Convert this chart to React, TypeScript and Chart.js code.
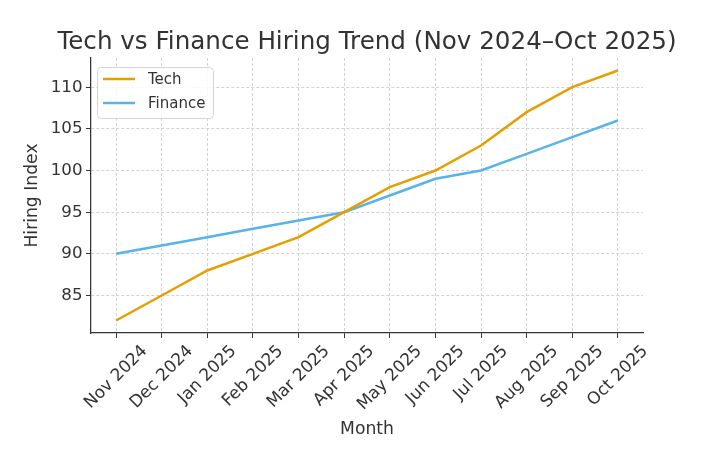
import React, { useEffect, useRef } from "react";
import { Chart, registerables } from "chart.js";

Chart.register(...registerables);

const months = [
  "Nov 2024", "Dec 2024", "Jan 2025", "Feb 2025", "Mar 2025", "Apr 2025",
  "May 2025", "Jun 2025", "Jul 2025", "Aug 2025", "Sep 2025", "Oct 2025",
];
const techValues = [82, 85, 88, 90, 92, 95, 98, 100, 103, 107, 110, 112];
const financeValues = [90, 91, 92, 93, 94, 95, 97, 99, 100, 102, 104, 106];
const yTicks = [85, 90, 95, 100, 105, 110];

const TITLE = "Tech vs Finance Hiring Trend (Nov 2024\u2013Oct 2025)";
const X_TITLE = "Month";
const Y_TITLE = "Hiring Index";
const TECH_COLOR = "#E69F00";
const FIN_COLOR = "#56B4E9";
const TEXT = "#333333";
const FONT = "'DejaVu Sans', sans-serif";

const decorPlugin = {
  id: "decor",
  afterDraw(chart: any) {
    const ctx = chart.ctx;
    const area = chart.chartArea;
    const xs = chart.scales.x;
    ctx.save();
    // title
    ctx.fillStyle = TEXT;
    ctx.font = `24.6px ${FONT}`;
    ctx.textAlign = "center";
    ctx.textBaseline = "alphabetic";
    ctx.fillText(TITLE, (area.left + area.right) / 2, 49);
    // x tick labels (rotated 45, centered)
    ctx.font = `16.9px ${FONT}`;
    const h = 16.9 * 1.164;
    months.forEach((m, i) => {
      const x = xs.getPixelForValue(i);
      const w = ctx.measureText(m).width;
      const cy = area.bottom + 5 + 3.5 + (w + h) * 0.3536;
      ctx.save();
      ctx.translate(x, cy);
      ctx.rotate(-Math.PI / 4);
      ctx.textAlign = "center";
      ctx.textBaseline = "middle";
      ctx.fillText(m, 0, 0);
      ctx.restore();
    });
    // axis titles
    ctx.font = `17.2px ${FONT}`;
    ctx.textAlign = "center";
    ctx.textBaseline = "middle";
    ctx.fillText(X_TITLE, (area.left + area.right) / 2, 430);
    ctx.save();
    ctx.translate(33, (area.top + area.bottom) / 2);
    ctx.rotate(-Math.PI / 2);
    ctx.fillText(Y_TITLE, 0, 0);
    ctx.restore();
    // legend
    const lx = area.left + 6;
    const ly = area.top + 9;
    const lw = 116;
    const lh = 51;
    ctx.beginPath();
    (ctx as any).roundRect(lx + 0.5, ly + 0.5, lw, lh, 4);
    ctx.fillStyle = "rgba(255,255,255,0.85)";
    ctx.fill();
    ctx.strokeStyle = "#d6d6d6";
    ctx.lineWidth = 1;
    ctx.stroke();
    const items = [
      { label: "Tech", color: TECH_COLOR },
      { label: "Finance", color: FIN_COLOR },
    ];
    ctx.font = `15px ${FONT}`;
    ctx.textAlign = "left";
    ctx.textBaseline = "middle";
    items.forEach((it, k) => {
      const yy = ly + 12 + k * 24;
      ctx.strokeStyle = it.color;
      ctx.lineWidth = 2.5;
      ctx.beginPath();
      ctx.moveTo(lx + 6, yy);
      ctx.lineTo(lx + 38, yy);
      ctx.stroke();
      ctx.fillStyle = TEXT;
      ctx.fillText(it.label, lx + 51, yy + 1);
    });
    ctx.restore();
  },
};

export default function App() {
  const ref = useRef<HTMLCanvasElement | null>(null);
  useEffect(() => {
    if (!ref.current) return;
    const chart = new Chart(ref.current, {
      type: "line",
      data: {
        datasets: [
          {
            label: "Tech",
            data: techValues.map((v, i) => ({ x: i, y: v })),
            borderColor: TECH_COLOR,
            backgroundColor: TECH_COLOR,
            borderWidth: 2.5,
            pointRadius: 0,
            tension: 0,
          },
          {
            label: "Finance",
            data: financeValues.map((v, i) => ({ x: i, y: v })),
            borderColor: FIN_COLOR,
            backgroundColor: FIN_COLOR,
            borderWidth: 2.5,
            pointRadius: 0,
            tension: 0,
          },
        ],
      },
      options: {
        responsive: false,
        animation: false,
        events: [],
        layout: { padding: { left: 0, right: 63, top: 58, bottom: 0 } },
        plugins: {
          legend: { display: false },
          title: { display: false },
          tooltip: { enabled: false },
        },
        scales: {
          x: {
            type: "linear",
            min: -0.55,
            max: 11.55,
            afterBuildTicks: (s: any) => {
              s.ticks = months.map((_, i) => ({ value: i }));
            },
            afterFit: (s: any) => {
              s.height = 129;
            },
            ticks: { display: false },
            grid: {
              color: "#d2d2d2",
              lineWidth: 1,
              tickLength: 5,
              tickColor: TEXT,
              tickWidth: 1,
              tickBorderDash: [],
            },
            border: { color: TEXT, width: 1.25, dash: [3, 2] },
          },
          y: {
            type: "linear",
            min: 80.5,
            max: 113.5,
            afterBuildTicks: (s: any) => {
              s.ticks = yTicks.map((v) => ({ value: v }));
            },
            afterFit: (s: any) => {
              s.width = 91;
            },
            ticks: {
              color: TEXT,
              font: { family: FONT, size: 16.67 },
              padding: 3.5,
            },
            grid: {
              color: "#d2d2d2",
              lineWidth: 1,
              tickLength: 5,
              tickColor: TEXT,
              tickWidth: 1,
              tickBorderDash: [],
            },
            border: { color: TEXT, width: 1.25, dash: [3, 2] },
          },
        },
      },
      plugins: [decorPlugin],
    });
    return () => chart.destroy();
  }, []);
  return (
    <div style={{ position: "fixed", left: 0, top: 0, width: 706, height: 462, background: "#fff" }}>
      <canvas ref={ref} width={706} height={462} style={{ display: "block" }} />
    </div>
  );
}
